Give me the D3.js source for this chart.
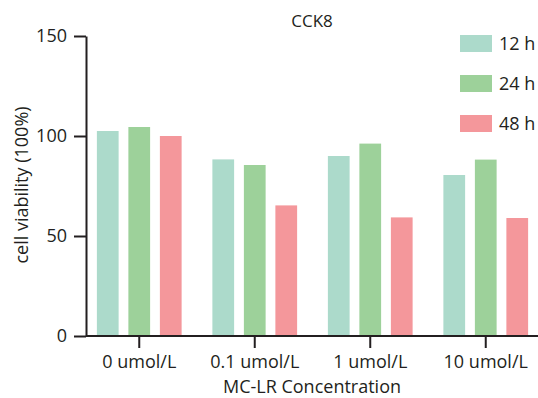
<!DOCTYPE html>
<html><head><meta charset="utf-8">
<script src="https://cdn.jsdelivr.net/npm/d3@7"></script>
<style>body{margin:0;background:#fff}svg{display:block}text{font-family:"Open Sans",sans-serif;fill:#231f20}</style>
</head><body><svg id="c" width="538" height="398"></svg>
<script>
const categories = ["0 umol/L","0.1 umol/L","1 umol/L","10 umol/L"];
const seriesNames = ["12 h","24 h","48 h"];
const values12 = [102.5, 88.3, 90.0, 80.5];
const values24 = [104.5, 85.5, 96.2, 88.2];
const values48 = [100.0, 65.3, 59.3, 59.0];
const colors = ["#acdacb","#9dd19a","#f4979b"];
const yTicks = [0,50,100,150];
const series = [values12, values24, values48];

const svg = d3.select("#c");
const x = d3.scaleBand().domain(categories).range([81.5, 543.5]).padding(0);
const xi = d3.scaleBand().domain(seriesNames).range([-47.25, 47.25]).paddingInner(0.31).paddingOuter(0.155);
const y = d3.scaleLinear().domain([0,150]).range([336,36]);

// bars
categories.forEach((c,ci)=>{
  svg.append("g").selectAll("rect").data(seriesNames).join("rect")
    .attr("x", s=> x(c)+x.bandwidth()/2 + xi(s))
    .attr("width", xi.bandwidth())
    .attr("y", (s,si)=> y(series[si][ci]))
    .attr("height", (s,si)=> y(0)-y(series[si][ci]))
    .attr("fill", (s,si)=>colors[si]);
});

// y axis
const ya = svg.append("g").attr("transform","translate(86,0)")
  .call(d3.axisLeft(y).tickValues(yTicks).tickSize(12).tickPadding(7).tickSizeOuter(0));
ya.select(".domain").attr("stroke","#231f20").attr("stroke-width",2);
ya.selectAll(".tick line").attr("stroke","#231f20").attr("stroke-width",2);
ya.selectAll(".tick text").attr("font-family",null).style("font-size","18px").style("fill","#231f20");

// x axis
const xa = svg.append("g").attr("transform","translate(0,336)")
  .call(d3.axisBottom(x).tickSize(12).tickPadding(7).tickSizeOuter(0));
xa.select(".domain").attr("d","M86,0H538").attr("stroke","#231f20").attr("stroke-width",2);
xa.selectAll(".tick line").attr("stroke","#231f20").attr("stroke-width",2);
xa.selectAll(".tick text").attr("font-family",null).style("font-size","18px").style("fill","#231f20");

// labels
svg.append("text").attr("x",312).attr("y",27).attr("text-anchor","middle").style("font-size","17px").text("CCK8");
svg.append("text").attr("x",312).attr("y",393).attr("text-anchor","middle").style("font-size","18px").text("MC-LR Concentration");
svg.append("text").attr("transform","translate(28,185) rotate(-90)").attr("text-anchor","middle").style("font-size","18px").text("cell viability (100%)");

// legend
const lg = svg.append("g");
seriesNames.forEach((s,i)=>{
  lg.append("rect").attr("x",460).attr("y",35+i*40).attr("width",32).attr("height",17).attr("fill",colors[i]);
  lg.append("text").attr("x",499).attr("y",50+i*40).style("font-size","18px").text(s);
});
</script></body></html>
